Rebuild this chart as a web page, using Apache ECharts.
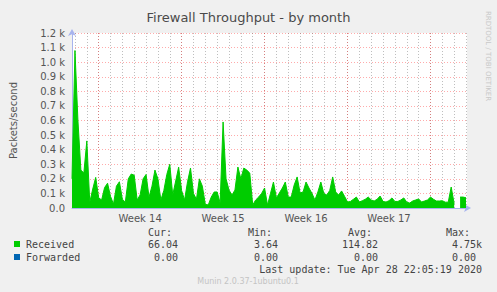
<!DOCTYPE html>
<html>
<head>
<meta charset="utf-8">
<script src="https://cdn.jsdelivr.net/npm/echarts@6/dist/echarts.min.js"></script>
<style>
html,body{margin:0;padding:0;background:#f0f0f0;}
#c{width:497px;height:292px;}
</style>
</head>
<body>
<div id="c"></div>
<script>
// ---- data ----
const titleText = 'Firewall Throughput - by month';
const yAxisName = 'Packets/second';
const yTickLabels = ['0.0','0.1 k','0.2 k','0.3 k','0.4 k','0.5 k','0.6 k','0.7 k','0.8 k','0.9 k','1.0 k','1.1 k','1.2 k'];
const weekLabels = ['Week 14','Week 15','Week 16','Week 17'];
// samples every 6 hours, in days from Monday 00:00 of week 14
const startDay = -2.25;
const stepDay = 0.25;
const endDay = 31.0833;
const received = [
  200,1080,600,260,240,460,40,130,210,70,
  55,140,170,80,27,150,180,60,40,200,
  233,225,55,90,200,230,75,150,260,200,
  55,120,230,300,90,185,280,120,55,180,
  274,100,60,200,150,25,21,75,110,110,
  34,590,200,123,89,123,281,200,274,260,
  240,21,55,75,100,137,20,100,178,69,
  103,137,178,75,75,158,213,103,110,178,
  137,100,55,110,178,100,89,120,213,110,
  89,117,80,41,45,60,75,41,50,60,
  75,55,48,60,82,45,41,50,69,45,
  45,55,69,40,34,48,55,62,41,48,
  55,75,60,48,48,50,40,40,144,30,
  null,75,75,70
];
const seriesNames = ['Received','Forwarded'];
const statHeaders = ['Cur:','Min:','Avg:','Max:'];
const curVals = [66.04, 0.00];
const minVals = [3.64, 0.00];
const avgVals = [114.82, 0.00];
const maxVals = [4.75, 0.00];
const maxUnits = ['k', ''];
const lastUpdate = 'Last update: Tue Apr 28 22:05:19 2020';
const rrdCredit = 'RRDTOOL / TOBI OETIKER';
const muninVersion = 'Munin 2.0.37-1ubuntu0.1';

// ---- chart ----
const colors = ['#00cc00', '#0066b3'];
const axisColor = '#a8b4ee';
const majorGrid = 'rgba(255,0,0,0.33)';
const minorGrid = 'rgba(110,110,110,0.45)';
const mono = 'DejaVu Sans Mono';
const sans = 'DejaVu Sans';
const textColor = '#444';

const recData = received.map((v, i) => [startDay + i * stepDay, v]);

const graphic = [];
const colRight = [178, 278, 378, 476];
const rowY = [244, 257];
statHeaders.forEach((h, k) => {
  graphic.push({type:'text', x: colRight[k] - 6, y: 232,
    style:{text:h, font:'10px "' + mono + '"', fill:textColor, align:'right', verticalAlign:'middle'}});
});
const cols = [curVals, minVals, avgVals, maxVals];
seriesNames.forEach((name, r) => {
  graphic.push({type:'rect', shape:{x:14, y:rowY[r]-3, width:6, height:6}, style:{fill:colors[r]}});
  graphic.push({type:'text', x: 26, y: rowY[r],
    style:{text:name, font:'10px "' + mono + '"', fill:textColor, align:'left', verticalAlign:'middle'}});
  cols.forEach((arr, k) => {
    graphic.push({type:'text', x: colRight[k], y: rowY[r],
      style:{text:arr[r].toFixed(2), font:'10px "' + mono + '"', fill:textColor, align:'right', verticalAlign:'middle'}});
  });
  if (maxUnits[r]) {
    graphic.push({type:'text', x: colRight[3], y: rowY[r],
      style:{text:maxUnits[r], font:'10px "' + mono + '"', fill:textColor, align:'left', verticalAlign:'middle'}});
  }
});
graphic.push({type:'text', x: 482, y: 269,
  style:{text:lastUpdate, font:'10px "' + mono + '"', fill:textColor, align:'right', verticalAlign:'middle'}});
graphic.push({type:'text', x: 248, y: 281,
  style:{text:muninVersion, font:'8px "' + sans + '"', fill:'#c4c4c4', align:'center', verticalAlign:'middle'}});
graphic.push({type:'text', x: 488, y: 56, rotation: -Math.PI/2,
  style:{text:rrdCredit, font:'7px "' + sans + '"', fill:'#c8c8c8', align:'center', verticalAlign:'middle'}});

const chart = echarts.init(document.getElementById('c'), null, {renderer:'svg'});
chart.setOption({
  backgroundColor: '#f0f0f0',
  animation: false,
  title: {
    text: titleText, left: 'center', top: 6,
    textStyle: {fontFamily: sans, fontSize: 13, fontWeight: 'normal', color: '#4a4a4a'}
  },
  grid: {left: 67, top: 33, width: 400, height: 175, backgroundColor: '#ffffff', show: true, borderWidth: 0},
  xAxis: [
    {
      type: 'value', position: 'bottom', min: startDay, max: endDay, splitNumber: 33, minInterval: 1, maxInterval: 1,
      axisLine: {show: true, onZero: false, lineStyle: {color: axisColor, width: 1}, symbol: ['none','arrow'], symbolSize: [6, 7], symbolOffset: [0, 4]},
      axisTick: {show: false}, axisLabel: {show: false},
      splitLine: {show: true, showMinLine: false, showMaxLine: false, lineStyle: {color: minorGrid, type: [1, 2], width: 1}}
    },
    {
      type: 'value', position: 'bottom', min: startDay, max: endDay, splitNumber: 5, minInterval: 7, maxInterval: 7,
      axisLine: {show: false, onZero: false}, axisTick: {show: false}, axisLabel: {show: false},
      splitLine: {show: true, showMinLine: false, showMaxLine: false, lineStyle: {color: majorGrid, type: [1, 2], width: 1}}
    },
    {
      type: 'value', position: 'bottom', min: startDay - 3.5, max: endDay - 3.5, splitNumber: 4, minInterval: 7, maxInterval: 7,
      axisLine: {show: false, onZero: false}, axisTick: {show: false}, splitLine: {show: false},
      axisLabel: {show: true, margin: 5, showMinLabel: false, showMaxLabel: false,
        fontFamily: sans, fontSize: 10, color: '#555',
        formatter: v => { const k = v / 7; return (Number.isInteger(k) && weekLabels[k]) ? weekLabels[k] : ''; }}
    }
  ],
  yAxis: {
    type: 'value', position: 'left', min: 0, max: 1200, interval: 100,
    name: yAxisName, nameLocation: 'middle', nameGap: 54,
    nameTextStyle: {fontFamily: sans, fontSize: 10, color: '#555'},
    axisLine: {show: true, onZero: false, lineStyle: {color: axisColor, width: 1}, symbol: ['none','arrow'], symbolSize: [6, 7], symbolOffset: [0, 4]},
    axisTick: {show: false},
    axisLabel: {margin: 7, fontFamily: sans, fontSize: 10, color: '#555',
      formatter: (v, i) => yTickLabels[Math.round(v / 100)]},
    splitLine: {show: true, lineStyle: {color: majorGrid, type: [1, 2], width: 1}}
  },
  series: [
    {
      name: seriesNames[0], type: 'line', xAxisIndex: 0, data: recData,
      symbol: 'none', smooth: false, connectNulls: false,
      lineStyle: {color: colors[0], width: 1},
      areaStyle: {color: colors[0], opacity: 1},
      z: 3
    }
  ],
  graphic: graphic
});
</script>
</body>
</html>
